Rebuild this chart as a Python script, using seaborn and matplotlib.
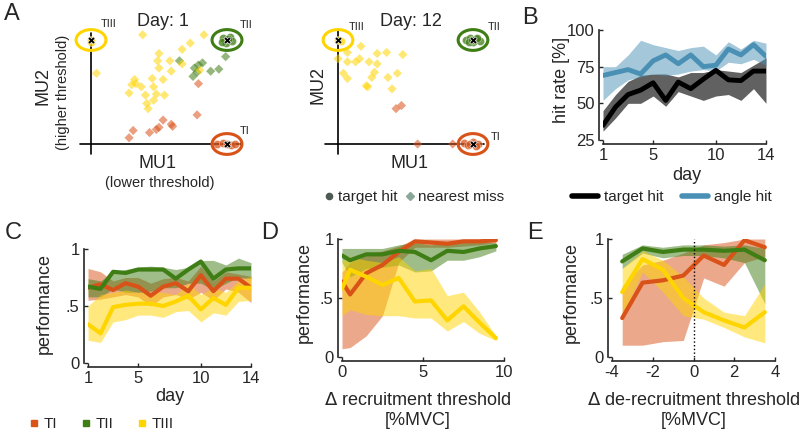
import numpy as np
import matplotlib
matplotlib.use('Agg')
import matplotlib.pyplot as plt
from matplotlib.patches import Ellipse
from matplotlib.lines import Line2D
from matplotlib.ticker import FuncFormatter
import seaborn as sns

# ---------------- data ----------------
# panel A, day 1: nearest misses per target (MU1, MU2 normalised)
d1_tiii_x = [0.38, 0.04, 0.83, 0.73, 0.67, 0.50, 0.49, 0.58, 0.67, 0.50, 0.59, 0.45, 0.53,
             0.32, 0.33, 0.30, 0.37, 0.46, 0.28, 0.40, 0.48, 0.54, 0.41, 0.42, 0.46, 0.80]
d1_tiii_y = [1.05, 0.68, 1.05, 0.97, 0.91, 0.87, 0.80, 0.80, 0.77, 0.73, 0.70, 0.63, 0.62,
             0.62, 0.58, 0.57, 0.55, 0.55, 0.49, 0.47, 0.48, 0.47, 0.39, 0.34, 0.42, 0.71]
d1_tii_x = [0.65, 0.76, 0.79, 0.82, 0.88, 0.94, 0.75, 0.99, 0.78]
d1_tii_y = [0.80, 0.73, 0.76, 0.78, 0.70, 0.72, 0.65, 0.84, 0.69]
d1_ti_x = [0.79, 0.78, 0.31, 0.28, 0.43, 0.48, 0.53, 0.50, 0.59, 0.60]
d1_ti_y = [0.58, 0.28, 0.13, 0.06, 0.11, 0.14, 0.23, 0.16, 0.19, 0.17]
# day 1 target hits
d1_hit_tii_x = [0.97, 1.02, 0.99, 1.04, 0.96, 1.01]
d1_hit_tii_y = [1.02, 1.03, 0.97, 0.99, 0.98, 1.01]
d1_hit_ti_x = [0.93, 0.97, 1.03, 1.06, 1.00]
d1_hit_ti_y = [0.00, 0.01, -0.01, 0.00, 0.00]
d1_hit_tiii_x = [0.00, 0.00]
d1_hit_tiii_y = [1.00, 0.98]

# panel A, day 12
d12_tiii_x = [0.17, 0.07, 0.00, 0.07, 0.13, 0.16, 0.23, 0.29, 0.36, 0.48, 0.29, 0.04, 0.07,
              0.27, 0.25, 0.37, 0.44, 0.21, 0.22, 0.40]
d12_tiii_y = [0.94, 0.88, 0.82, 0.79, 0.79, 0.82, 0.79, 0.87, 0.88, 0.86, 0.77, 0.68, 0.63,
              0.69, 0.64, 0.64, 0.68, 0.56, 0.55, 0.53]
d12_ti_x = [0.43, 0.47, 0.59, 0.85]
d12_ti_y = [0.34, 0.37, 0.00, 0.00]
d12_hit_tii_x = [0.95, 0.98, 1.02, 1.05, 1.00, 0.97, 1.03, 0.99]
d12_hit_tii_y = [1.00, 1.02, 1.01, 0.99, 0.98, 0.98, 1.02, 1.00]
d12_hit_ti_x = [0.93, 0.96, 1.00, 1.04, 0.98, 1.02]
d12_hit_ti_y = [0.01, -0.01, 0.02, 0.00, 0.00, -0.02]
d12_hit_tiii_x = [0.00, 0.02]
d12_hit_tiii_y = [1.00, 0.99]

targets_x = [1.0, 1.0, 0.0]   # TI, TII, TIII
targets_y = [0.0, 1.0, 1.0]
target_names = ['TI', 'TII', 'TIII']

# panel B: hit rate [%]
days = [1, 2, 3, 4, 5, 6, 7, 8, 9, 10, 11, 12, 13, 14]
target_hit = [35, 47.5, 56, 59, 64, 52, 64.5, 60, 66.5, 72.5, 66, 65.5, 72, 72]
target_hit_lo = [31, 40, 50, 50, 55, 48, 58, 55, 52, 55, 56, 52, 60, 50]
target_hit_hi = [45, 56, 65, 69, 70, 70, 68, 71, 71, 73, 72, 71, 76, 81]
angle_hit = [69, 71, 73, 70, 79, 83, 77, 83, 75, 76, 87, 83, 90, 82]
angle_hit_lo = [52, 60, 66, 68, 70, 69, 70, 72, 73, 72, 78, 77, 80, 76]
angle_hit_hi = [75, 75, 83, 93, 90, 88, 86, 88, 89, 83, 92, 87, 93, 91]

# panel C: performance per day
c_ti = [0.66, 0.69, 0.64, 0.70, 0.67, 0.59, 0.67, 0.70, 0.63, 0.77, 0.63, 0.74, 0.74, 0.66]
c_ti_lo = [0.55, 0.56, 0.58, 0.60, 0.58, 0.50, 0.58, 0.60, 0.56, 0.62, 0.55, 0.65, 0.62, 0.53]
c_ti_hi = [0.83, 0.80, 0.72, 0.75, 0.75, 0.70, 0.74, 0.75, 0.72, 0.85, 0.72, 0.80, 0.78, 0.76]
c_tii = [0.67, 0.65, 0.80, 0.79, 0.82, 0.82, 0.82, 0.74, 0.82, 0.89, 0.74, 0.82, 0.83, 0.83]
c_tii_lo = [0.58, 0.58, 0.65, 0.62, 0.62, 0.63, 0.66, 0.66, 0.70, 0.70, 0.64, 0.70, 0.75, 0.74]
c_tii_hi = [0.74, 0.72, 0.80, 0.82, 0.84, 0.85, 0.84, 0.82, 0.84, 0.90, 0.90, 0.86, 0.92, 0.88]
c_tiii = [0.34, 0.26, 0.49, 0.51, 0.52, 0.52, 0.50, 0.54, 0.59, 0.47, 0.57, 0.51, 0.66, 0.66]
c_tiii_lo = [0.20, 0.18, 0.36, 0.38, 0.42, 0.42, 0.40, 0.45, 0.46, 0.36, 0.44, 0.42, 0.54, 0.55]
c_tiii_hi = [0.50, 0.60, 0.62, 0.64, 0.62, 0.62, 0.62, 0.60, 0.70, 0.60, 0.66, 0.62, 0.72, 0.76]

# panel D: performance vs delta recruitment threshold [%MVC]
d_x = [0.0, 0.5, 1.5, 2.5, 3.5, 4.5, 5.5, 6.5, 7.5, 8.5, 9.5]
d_ti = [0.64, 0.53, 0.71, 0.78, 0.89, 0.98, 0.97, 0.96, 0.98, 0.98, 0.99]
d_ti_lo = [0.07, 0.08, 0.18, 0.35, 0.80, 0.93, 0.93, 0.93, 0.94, 0.95, 0.97]
d_ti_hi = [0.72, 0.80, 0.86, 0.90, 0.94, 1.00, 1.00, 1.00, 1.00, 1.00, 1.00]
d_tii = [0.86, 0.82, 0.87, 0.87, 0.90, 0.89, 0.82, 0.90, 0.89, 0.92, 0.94]
d_tii_lo = [0.80, 0.68, 0.75, 0.76, 0.78, 0.72, 0.73, 0.82, 0.82, 0.85, 0.90]
d_tii_hi = [0.92, 0.92, 0.92, 0.92, 0.95, 0.97, 0.95, 0.97, 0.97, 0.97, 0.97]
d_tiii = [0.58, 0.74, 0.68, 0.61, 0.67, 0.47, 0.48, 0.31, 0.43, 0.29, 0.16]
d_tiii_lo = [0.35, 0.40, 0.36, 0.35, 0.35, 0.33, 0.33, 0.22, 0.30, 0.20, 0.14]
d_tiii_hi = [0.82, 0.85, 0.82, 0.80, 0.85, 0.73, 0.75, 0.52, 0.55, 0.38, 0.18]

# panel E: performance vs delta de-recruitment threshold [%MVC]
e_x = [-3.5, -2.5, -1.5, -0.5, 0.5, 1.5, 2.5, 3.5]
e_ti = [0.33, 0.63, 0.65, 0.69, 0.86, 0.78, 0.99, 0.93]
e_ti_lo = [0.10, 0.10, 0.13, 0.14, 0.67, 0.60, 0.80, 0.85]
e_ti_hi = [0.60, 0.78, 0.82, 0.88, 0.95, 0.97, 1.00, 1.00]
e_tii = [0.81, 0.92, 0.89, 0.91, 0.91, 0.90, 0.91, 0.82]
e_tii_lo = [0.75, 0.88, 0.84, 0.86, 0.86, 0.84, 0.80, 0.45]
e_tii_hi = [0.87, 0.95, 0.93, 0.95, 0.95, 0.94, 0.95, 0.92]
e_tiii = [0.55, 0.83, 0.74, 0.50, 0.38, 0.31, 0.25, 0.38]
e_tiii_lo = [0.35, 0.72, 0.55, 0.35, 0.32, 0.25, 0.17, 0.12]
e_tiii_hi = [0.75, 0.90, 0.82, 0.68, 0.50, 0.38, 0.35, 0.62]

# ---------------- style ----------------
sns.set_style('ticks')
plt.rcParams['font.family'] = ['Liberation Sans', 'DejaVu Sans']
plt.rcParams['axes.edgecolor'] = '#262626'
plt.rcParams['xtick.color'] = '#262626'
plt.rcParams['ytick.color'] = '#262626'
plt.rcParams['axes.unicode_minus'] = False

col_ti, col_tii, col_tiii = '#D95319', '#3F7D15', '#FFD500'
col_blue = '#4A90B5'
cols = [col_ti, col_tii, col_tiii]

W, H = 800, 433
fig = plt.figure(figsize=(8, 4.33), dpi=100)


def add_ax(x0, y0, x1, y1):
    # pixel box (top-left origin) -> figure axes
    return fig.add_axes([x0 / W, 1 - y1 / H, (x1 - x0) / W, (y1 - y0) / H])


def ftext(px, py, s, **kw):
    fig.text(px / W, 1 - py / H, s, **kw)


# ---------------- panel A ----------------
def scatter_panel(ax, misses, hits, lines, labels):
    for (mx, my), c in zip(misses, cols):
        if len(mx):
            sns.scatterplot(x=mx, y=my, marker='D', s=22, color=c, alpha=0.55,
                            edgecolor='none', ax=ax, legend=False)
    for (hx, hy), c in zip(hits, cols):
        sns.scatterplot(x=hx, y=hy, marker='o', s=34, color=c, alpha=0.75,
                        edgecolor='white', linewidth=0.3, ax=ax, legend=False)
    ax.plot(lines[0], [0, 0], color='k', lw=1.2, zorder=0)
    ax.plot([0, 0], lines[1], color='k', lw=1.2, zorder=0)
    for tx, ty, c in zip(targets_x, targets_y, cols):
        ax.add_patch(Ellipse((tx, ty), 0.22, 0.2, fill=False, ec=c, lw=2.2))
    sns.scatterplot(x=targets_x, y=targets_y, marker='X', s=28, color='k',
                    ax=ax, legend=False, zorder=5)
    for (lx, ly), name in zip(labels, target_names):
        ax.text(lx, ly, name, fontsize=8, ha='center', va='center')
    ax.axis('off')


axA1 = add_ax(65, 15, 255, 165)
axA1.set_xlim((65 - 91) / 136, (255 - 91) / 136)
axA1.set_ylim((144 - 165) / 104, (144 - 15) / 104)
scatter_panel(axA1,
              [(d1_ti_x, d1_ti_y), (d1_tii_x, d1_tii_y), (d1_tiii_x, d1_tiii_y)],
              [(d1_hit_ti_x, d1_hit_ti_y), (d1_hit_tii_x, d1_hit_tii_y),
               (d1_hit_tiii_x, d1_hit_tiii_y)],
              ([-0.08, 1.1], [-0.1, 1.07]),
              [(1.13, 0.125), (1.14, 1.14), (0.13, 1.15)])

axA2 = add_ax(312, 15, 502, 165)
axA2.set_xlim((312 - 338) / 135, (502 - 338) / 135)
axA2.set_ylim((144 - 165) / 104, (144 - 15) / 104)
scatter_panel(axA2,
              [(d12_ti_x, d12_ti_y), ([], []), (d12_tiii_x, d12_tiii_y)],
              [(d12_hit_ti_x, d12_hit_ti_y), (d12_hit_tii_x, d12_hit_tii_y),
               (d12_hit_tiii_x, d12_hit_tiii_y)],
              ([-0.1, 1.08], [-0.1, 1.1]),
              [(1.17, 0.07), (1.156, 1.125), (0.14, 1.125)])

ftext(163, 21, 'Day: 1', fontsize=13, ha='center', va='center')
ftext(411, 21, 'Day: 12', fontsize=13, ha='center', va='center')
ftext(43, 86, 'MU2', fontsize=13, rotation=90, ha='center', va='center')
ftext(63, 92, '(higher threshold)', fontsize=10.5, rotation=90, ha='center', va='center')
ftext(158, 164, 'MU1', fontsize=13, ha='center', va='center')
ftext(160, 183, '(lower threshold)', fontsize=10.5, ha='center', va='center')
ftext(318, 85, 'MU2', fontsize=13, rotation=90, ha='center', va='center')
ftext(410, 164, 'MU1', fontsize=13, ha='center', va='center')

fig.legend(handles=[Line2D([], [], marker='o', ls='', color='#4f5a55', ms=4.5),
                    Line2D([], [], marker='D', ls='', color='#8aa898', ms=4)],
           labels=['target hit', 'nearest miss'], loc='center',
           bbox_to_anchor=(415 / W, 1 - 197 / H), ncol=2, frameon=False,
           handlelength=0.5, handletextpad=0.3, columnspacing=0.6, fontsize=11)


# ---------------- line panels ----------------
def style_axes(ax):
    ax.tick_params(direction='in', length=3, width=1, labelsize=12, pad=3)
    sns.despine(ax=ax, offset=3, trim=True)
    for s in ['left', 'bottom']:
        ax.spines[s].set_linewidth(1.2)


def band(ax, x, lo, hi, color, alpha=0.5):
    ax.fill_between(x, lo, hi, color=color, alpha=alpha, lw=0)


def perf_fmt(v, pos):
    return {0: '0', 0.5: '.5', 1: '1'}.get(round(v, 2), '')


# panel B
axB = add_ax(603, 30, 766, 140)
band(axB, days, target_hit_lo, target_hit_hi, 'k', alpha=0.62)
band(axB, days, angle_hit_lo, angle_hit_hi, col_blue, alpha=0.5)
sns.lineplot(x=days, y=target_hit, color='k', lw=3.5, ax=axB)
sns.lineplot(x=days, y=angle_hit, color=col_blue, lw=3.5, ax=axB)
axB.set_xlim(1, 14)
axB.set_ylim(25, 100)
axB.set_xticks([1, 5, 10, 14])
axB.set_yticks([25, 50, 75, 100])
axB.set_xlabel('day', fontsize=13)
axB.set_ylabel('hit rate [%]', fontsize=13)
axB.xaxis.set_label_coords(0.515, -0.245)
axB.yaxis.set_label_coords(-0.2, 0.545)
style_axes(axB)
fig.legend(handles=[Line2D([], [], color='k', lw=4), Line2D([], [], color=col_blue, lw=4)],
           labels=['target hit', 'angle hit'], loc='center',
           bbox_to_anchor=(672 / W, 1 - 197 / H), ncol=2, frameon=False,
           handlelength=1.7, handletextpad=0.4, columnspacing=1.2, fontsize=11)

# panels C, D, E
perf_panels = [
    ((88, 249, 251, 363), days, [(c_ti, c_ti_lo, c_ti_hi), (c_tii, c_tii_lo, c_tii_hi),
                                 (c_tiii, c_tiii_lo, c_tiii_hi)],
     (1, 14), [1, 5, 10, 14], 'day', (-0.215, 0.526), (0.503, -0.22)),
    ((342, 239, 504, 357), d_x, [(d_ti, d_ti_lo, d_ti_hi), (d_tii, d_tii_lo, d_tii_hi),
                                 (d_tiii, d_tiii_lo, d_tiii_hi)],
     (0, 10), [0, 5, 10], '$\\Delta$ recruitment threshold\n[%MVC]', (-0.179, 0.55), (0.47, -0.3)),
    ((612, 239, 775, 357), e_x, [(e_ti, e_ti_lo, e_ti_hi), (e_tii, e_tii_lo, e_tii_hi),
                                 (e_tiii, e_tiii_lo, e_tiii_hi)],
     (-4, 4), [-4, -2, 0, 2, 4], '$\\Delta$ de-recruitment threshold\n[%MVC]', (-0.196, 0.55), (0.503, -0.3)),
]

for box, xs, series, xlim, xticks, xlabel, ylc, xlc in perf_panels:
    ax = add_ax(*box)
    for (mid, lo, hi), c in zip(series, cols):
        band(ax, xs, lo, hi, c, alpha=0.5)
    for (mid, lo, hi), c in zip(series, cols):
        sns.lineplot(x=xs, y=mid, color=c, lw=3, ax=ax)
    if xlim[0] < 0:
        ax.axvline(0, ymin=0, ymax=1, color='k', ls=':', lw=1)
    ax.set_xlim(*xlim)
    ax.set_ylim(0, 1)
    ax.set_xticks(xticks)
    ax.set_yticks([0, 0.5, 1])
    ax.yaxis.set_major_formatter(FuncFormatter(perf_fmt))
    ax.set_xlabel(xlabel, fontsize=13)
    ax.set_ylabel('performance', fontsize=13)
    ax.xaxis.set_label_coords(*xlc)
    ax.yaxis.set_label_coords(*ylc)
    style_axes(ax)

fig.legend(handles=[Line2D([], [], marker='s', ls='', color=c, ms=4) for c in cols],
           labels=target_names, loc='center', bbox_to_anchor=(102 / W, 1 - 424 / H),
           ncol=3, frameon=False, handlelength=0.5, handletextpad=0.4,
           columnspacing=1.6, fontsize=11)

# panel letters
for s, (px, py) in zip('ABCDE', [(12, 14), (530, 18), (13, 233), (270, 233), (535, 233)]):
    ftext(px, py, s, fontsize=17, ha='center', va='center')

fig.savefig('out.png', dpi=100)
